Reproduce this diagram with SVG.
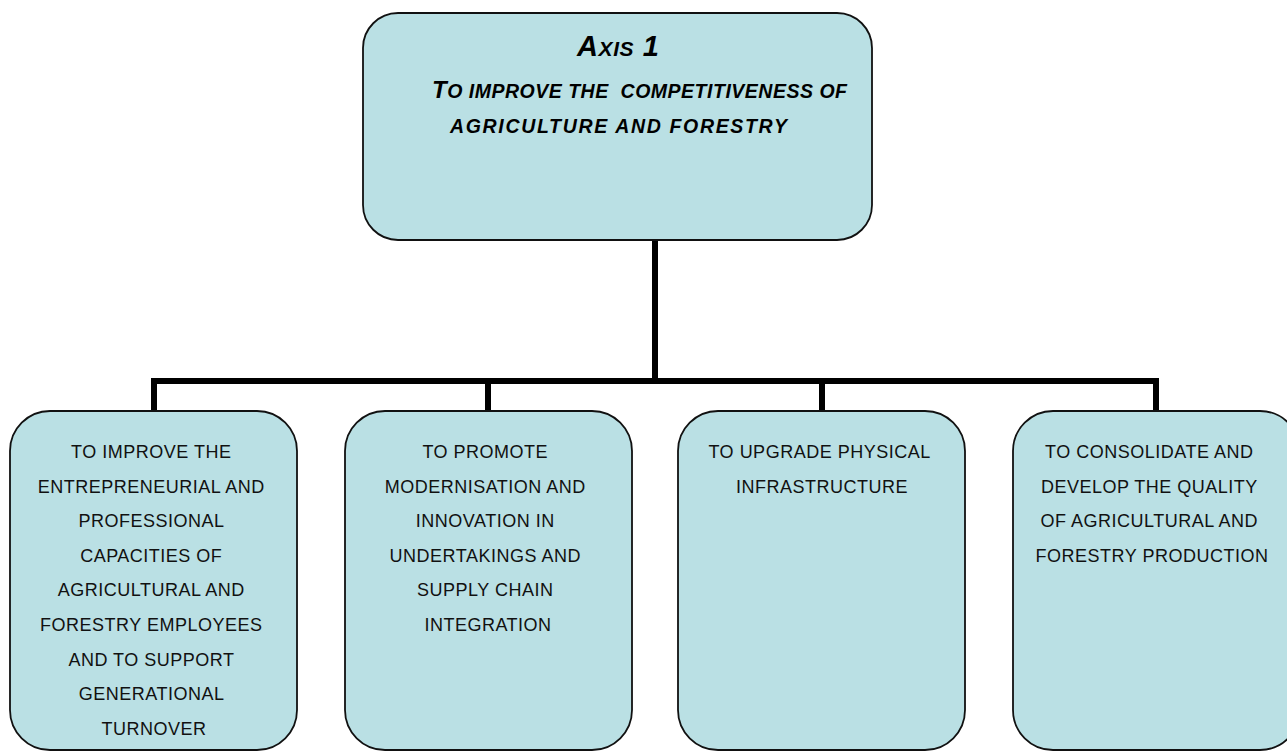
<svg xmlns="http://www.w3.org/2000/svg" width="1287" height="751" viewBox="0 0 1287 751">
<style>
.box{fill:#BAE0E4;stroke:#111;stroke-width:1.8}
.conn{fill:none;stroke:#000;stroke-width:6;stroke-linejoin:miter;stroke-linecap:butt}
.t{font-family:"Liberation Sans",Arial,sans-serif;font-size:18px;letter-spacing:0.5px;fill:#111;text-anchor:middle}
.h{font-family:"Liberation Sans",Arial,sans-serif;font-weight:bold;font-style:italic;fill:#000}
</style>
<rect width="1287" height="751" fill="#fff"/>
<g id="connectors">
<path class="conn" d="M655 240 V381"/>
<path class="conn" d="M154 411 V381 H1156 V411"/>
<path class="conn" d="M488 381 V411"/>
<path class="conn" d="M822 381 V411"/>
</g>
<g id="axis1">
<rect class="box" x="363" y="13" width="509" height="227" rx="35" ry="35"/>
<text class="h" x="577" y="56" textLength="82" lengthAdjust="spacing"><tspan font-size="29">A</tspan><tspan font-size="21">XIS</tspan><tspan font-size="29"> 1</tspan></text>
<text class="h" x="432" y="98" textLength="415" lengthAdjust="spacing" xml:space="preserve"><tspan font-size="24">T</tspan><tspan font-size="19.5">O IMPROVE THE  COMPETITIVENESS OF</tspan></text>
<text class="h" x="450" y="133" font-size="19.5" textLength="337" lengthAdjust="spacing">AGRICULTURE AND FORESTRY</text>
</g>
<g id="obj1">
<rect class="box" x="10" y="411" width="287" height="339" rx="40" ry="40"/>
<text class="t">
<tspan x="154" y="458">TO IMPROVE THE</tspan>
<tspan x="154" y="492.6">ENTREPRENEURIAL AND</tspan>
<tspan x="154" y="527.2">PROFESSIONAL</tspan>
<tspan x="154" y="561.8">CAPACITIES OF</tspan>
<tspan x="154" y="596.4">AGRICULTURAL AND</tspan>
<tspan x="154" y="631">FORESTRY EMPLOYEES</tspan>
<tspan x="154" y="665.6">AND TO SUPPORT</tspan>
<tspan x="154" y="700.2">GENERATIONAL</tspan>
<tspan x="154" y="734.8">TURNOVER</tspan>
</text>
</g>
<g id="obj2">
<rect class="box" x="345" y="411" width="287" height="339" rx="40" ry="40"/>
<text class="t">
<tspan x="488" y="458">TO PROMOTE</tspan>
<tspan x="488" y="492.6">MODERNISATION AND</tspan>
<tspan x="488" y="527.2">INNOVATION IN</tspan>
<tspan x="488" y="561.8">UNDERTAKINGS AND</tspan>
<tspan x="488" y="596.4">SUPPLY CHAIN</tspan>
<tspan x="488" y="631">INTEGRATION</tspan>
</text>
</g>
<g id="obj3">
<rect class="box" x="678" y="411" width="287" height="339" rx="40" ry="40"/>
<text class="t">
<tspan x="822" y="458">TO UPGRADE PHYSICAL</tspan>
<tspan x="822" y="492.6">INFRASTRUCTURE</tspan>
</text>
</g>
<g id="obj4">
<rect class="box" x="1013" y="411" width="287" height="339" rx="40" ry="40"/>
<text class="t">
<tspan x="1152" y="458">TO CONSOLIDATE AND</tspan>
<tspan x="1152" y="492.6">DEVELOP THE QUALITY</tspan>
<tspan x="1152" y="527.2">OF AGRICULTURAL AND</tspan>
<tspan x="1152" y="561.8">FORESTRY PRODUCTION</tspan>
</text>
</g>
</svg>
